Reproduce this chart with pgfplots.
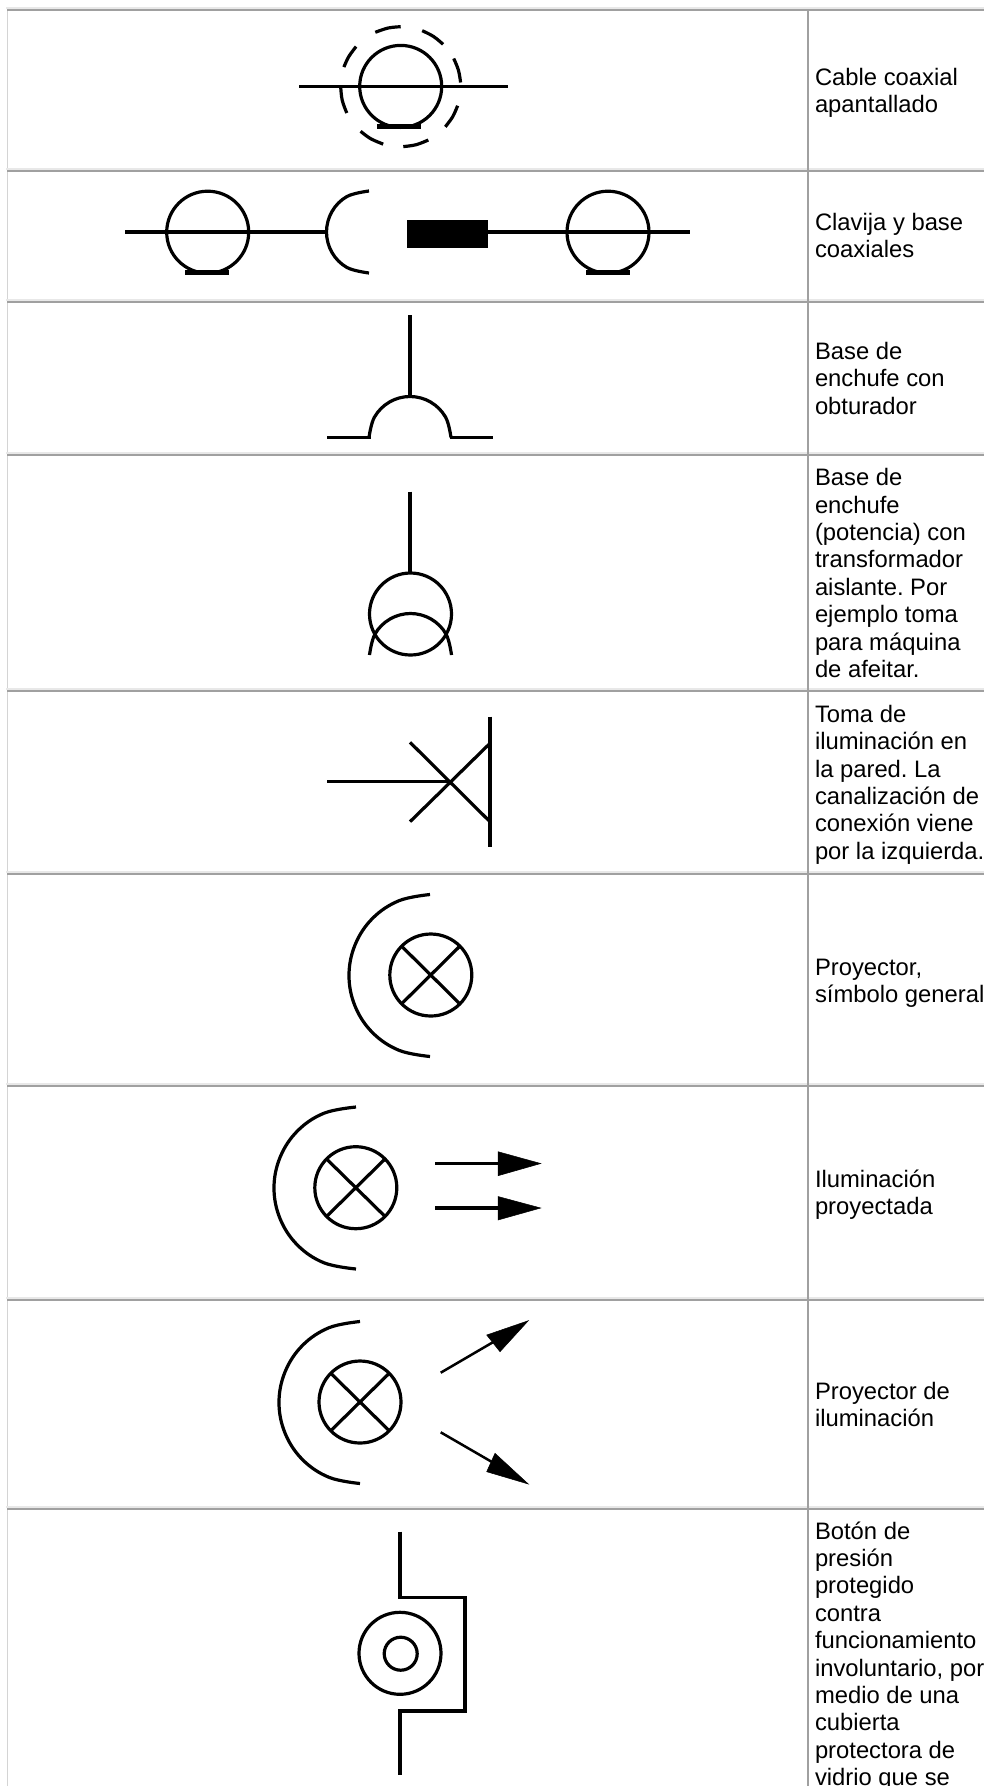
\documentclass[border=0pt]{standalone}
\usepackage{pgfplots}
\pgfplotsset{compat=1.18}
\usepackage{fontspec}
\setmainfont{Liberation Sans}
\frenchspacing
\definecolor{grid}{HTML}{A0A0A0}
\definecolor{gridl}{HTML}{E8E8E8}
\definecolor{gridm}{HTML}{D4D4D4}
\tikzset{
  sym/.style={black,line width=3.2pt,no markers},
  arc/.style={black,line width=3.2pt,no markers,smooth,tension=0.63},
  bar/.style={black,line width=4.5pt,no markers},
  thin sym/.style={black,line width=2.5pt,no markers},
  solid sym/.style={black,fill=black,line width=0.5pt,no markers},
  rule/.style={grid,line width=2.2pt,no markers},
  rulel/.style={gridl,line width=1.2pt,no markers},
  ring/.style={only marks,mark=o,mark size=41pt,mark options={black,line width=3.2pt,fill=none}},
  txt/.style={anchor=base west,inner sep=0pt,outer sep=0pt,font=\fontsize{23.8}{27.4}\selectfont,text=black},
}
\begin{document}
\begin{tikzpicture}[x=1pt,y=1pt]
\path[use as bounding box,clip] (0,0) rectangle (984,1786);
\begin{axis}[at={(0pt,0pt)},anchor=south west,scale only axis,width=984pt,height=1786pt,
  xmin=0,xmax=984,ymin=0,ymax=1786,y dir=reverse,hide axis]
% table rules
\addplot[gridm,line width=1.5pt,no markers] coordinates {(7.7,8)(7.7,1786)};
\addplot[rulel] coordinates {(6,8)(984,8)};
\addplot[rulel] coordinates {(6,169)(984,169)};
\addplot[rulel] coordinates {(6,300)(984,300)};
\addplot[rulel] coordinates {(6,453)(984,453)};
\addplot[rulel] coordinates {(6,689)(984,689)};
\addplot[rulel] coordinates {(6,872)(984,872)};
\addplot[rulel] coordinates {(6,1084)(984,1084)};
\addplot[rulel] coordinates {(6,1298)(984,1298)};
\addplot[rulel] coordinates {(6,1507)(984,1507)};
\addplot[rule] coordinates {(7,10)(984,10)};
\addplot[rule] coordinates {(7,171)(984,171)};
\addplot[rule] coordinates {(7,302)(984,302)};
\addplot[rule] coordinates {(7,455)(984,455)};
\addplot[rule] coordinates {(7,691)(984,691)};
\addplot[rule] coordinates {(7,874)(984,874)};
\addplot[rule] coordinates {(7,1086)(984,1086)};
\addplot[rule] coordinates {(7,1300)(984,1300)};
\addplot[rule] coordinates {(7,1509)(984,1509)};
\addplot[rule] coordinates {(808,10)(808,1786)};
% symbol 1
\addplot[sym] coordinates {(299,86.7)(508,86.7)};
\addplot[ring] coordinates {(400.7,86.4)};
\addplot[bar] coordinates {(377,126.5)(421,126.5)};
\addplot[arc] coordinates {(400.7,26.7)(388.2,28.0)(375.3,32.3)};
\addplot[arc] coordinates {(422.2,30.7)(433.4,36.4)(443.1,44.3)};
\addplot[arc] coordinates {(453.7,58.5)(458.4,70.1)(460.6,82.5)};
\addplot[arc] coordinates {(457.6,105.7)(452.7,116.7)(445.3,126.8)};
\addplot[arc] coordinates {(428.3,140.0)(416.2,144.7)(403.3,146.6)};
\addplot[arc] coordinates {(383.2,144.1)(370.7,138.7)(360.6,131.3)};
\addplot[arc] coordinates {(346.8,113.0)(342.2,100.2)(340.7,86.7)};
\addplot[arc] coordinates {(343.9,67.1)(348.7,56.7)(356.1,46.6)};
% symbol 2
\addplot[sym] coordinates {(125.3,232)(326,232)};
\addplot[ring] coordinates {(207.7,232.2)};
\addplot[bar] coordinates {(185.4,272.3)(229.3,272.3)};
\addplot[arc] coordinates {(369,191)(347,196.5)(332,211.5)(326.5,232)(332,252.5)(347,267.5)(369,273)};
\addplot[solid sym] coordinates {(407.6,220)(487.5,220)(487.5,247.3)(407.6,247.3)} -- cycle;
\addplot[sym] coordinates {(487.5,232)(689.6,232)};
\addplot[ring] coordinates {(608,232.2)};
\addplot[bar] coordinates {(586,272.3)(630,272.3)};
% symbol 3
\addplot[sym] coordinates {(410,315)(410,397)};
\addplot[arc] coordinates {(369,437.5)(374.5,417)(389.5,402)(410,396.5)(430.5,402)(445.5,417)(451,437.5)};
\addplot[sym] coordinates {(327.3,437.5)(370.5,437.5)};
\addplot[sym] coordinates {(449.5,437.5)(492.7,437.5)};
% symbol 4
\addplot[sym] coordinates {(410,491.7)(410,573.3)};
\addplot[ring] coordinates {(410.5,614)};
\addplot[arc] coordinates {(369.5,655)(375,634)(390,619)(410.5,613.5)(431,619)(446,634)(451.5,655)};
% symbol 5
\addplot[sym] coordinates {(327.3,781.7)(450,781.7)};
\addplot[sym] coordinates {(490,716.7)(490,847.3)};
\addplot[sym] coordinates {(410,742.3)(490,821.7)};
\addplot[sym] coordinates {(410,821.7)(490,743.3)};
% symbol 6
\addplot[ring] coordinates {(430.8,975)};
\addplot[sym] coordinates {(401.7,946.3)(459.7,1003.7)};
\addplot[sym] coordinates {(401.7,1003.7)(459.7,946.3)};
\addplot[arc] coordinates {(430,894.5)(399,900.7)(372.7,918.2)(355.2,944.5)(349,975.5)(355.2,1006.5)(372.7,1032.8)(399,1050.3)(430,1056.5)};
% symbol 7
\addplot[ring] coordinates {(355.8,1187.7)};
\addplot[sym] coordinates {(326.8,1159.2)(384.8,1216.2)};
\addplot[sym] coordinates {(326.8,1216.2)(384.8,1159.2)};
\addplot[arc] coordinates {(356,1107)(324,1113.2)(297.7,1130.7)(280.2,1157)(274,1188)(280.2,1219)(297.7,1245.3)(324,1262.8)(356,1269)};
\addplot[sym] coordinates {(435,1163.5)(500,1163.5)};
\addplot[solid sym] coordinates {(498,1151.7)(540.7,1163.5)(498,1175.7)} -- cycle;
\addplot[sym] coordinates {(435,1208)(500,1208)};
\addplot[solid sym] coordinates {(498,1196.5)(540.7,1208)(498,1220)} -- cycle;
% symbol 8
\addplot[ring] coordinates {(360,1402)};
\addplot[sym] coordinates {(331,1373.5)(389,1430.5)};
\addplot[sym] coordinates {(331,1430.5)(389,1373.5)};
\addplot[arc] coordinates {(360,1321.5)(329,1327.7)(302.7,1345.2)(285.2,1371.5)(279,1402.5)(285.2,1433.5)(302.7,1459.8)(329,1477.3)(360,1483.5)};
\addplot[thin sym] coordinates {(440.7,1372.7)(495,1341)};
\addplot[solid sym] coordinates {(528.3,1320.7)(486.7,1335)(500,1351.7)} -- cycle;
\addplot[thin sym] coordinates {(440.7,1432.3)(492,1462)};
\addplot[solid sym] coordinates {(528.3,1484)(495,1453.3)(486.7,1471.7)} -- cycle;
% symbol 9
\addplot[sym] coordinates {(400,1531.7)(400,1597.3)(465,1597.3)(465,1711)(400,1711)(400,1775)};
\addplot[ring] coordinates {(400,1653.3)};
\addplot[ring,mark size=16.5pt] coordinates {(400.7,1653.7)};
% texts
\node[txt] at (axis cs:815,85) {Cable coaxial};
\node[txt] at (axis cs:815,112.4) {apantallado};
\node[txt] at (axis cs:815,230) {Clavija y base};
\node[txt] at (axis cs:815,257.4) {coaxiales};
\node[txt] at (axis cs:815,359) {Base de};
\node[txt] at (axis cs:815,386.6) {enchufe con};
\node[txt] at (axis cs:815,414) {obturador};
\node[txt] at (axis cs:815,485.7) {Base de};
\node[txt] at (axis cs:815,513.1) {enchufe};
\node[txt] at (axis cs:815,540.5) {(potencia) con};
\node[txt] at (axis cs:815,567.9) {transformador};
\node[txt] at (axis cs:815,595.3) {aislante. Por};
\node[txt] at (axis cs:815,622.7) {ejemplo toma};
\node[txt] at (axis cs:815,650.1) {para máquina};
\node[txt] at (axis cs:815,677.5) {de afeitar.};
\node[txt] at (axis cs:815,722.3) {Toma de};
\node[txt] at (axis cs:815,749.7) {iluminación en};
\node[txt] at (axis cs:815,777.1) {la pared. La};
\node[txt] at (axis cs:815,804.5) {canalización de};
\node[txt] at (axis cs:815,831.9) {conexión viene};
\node[txt] at (axis cs:815,859.3) {por la izquierda.};
\node[txt] at (axis cs:815,975) {Proyector,};
\node[txt] at (axis cs:815,1002.4) {símbolo general};
\node[txt] at (axis cs:815,1187.3) {Iluminación};
\node[txt] at (axis cs:815,1214.7) {proyectada};
\node[txt] at (axis cs:815,1399) {Proyector de};
\node[txt] at (axis cs:815,1426.4) {iluminación};
\node[txt] at (axis cs:815,1539) {Botón de};
\node[txt] at (axis cs:815,1566.4) {presión};
\node[txt] at (axis cs:815,1593.8) {protegido};
\node[txt] at (axis cs:815,1621.2) {contra};
\node[txt] at (axis cs:815,1648.6) {funcionamiento};
\node[txt] at (axis cs:815,1676) {involuntario, por};
\node[txt] at (axis cs:815,1703.4) {medio de una};
\node[txt] at (axis cs:815,1730.8) {cubierta};
\node[txt] at (axis cs:815,1758.2) {protectora de};
\node[txt] at (axis cs:815,1785.6) {vidrio que se};
\end{axis}
\end{tikzpicture}
\end{document}
